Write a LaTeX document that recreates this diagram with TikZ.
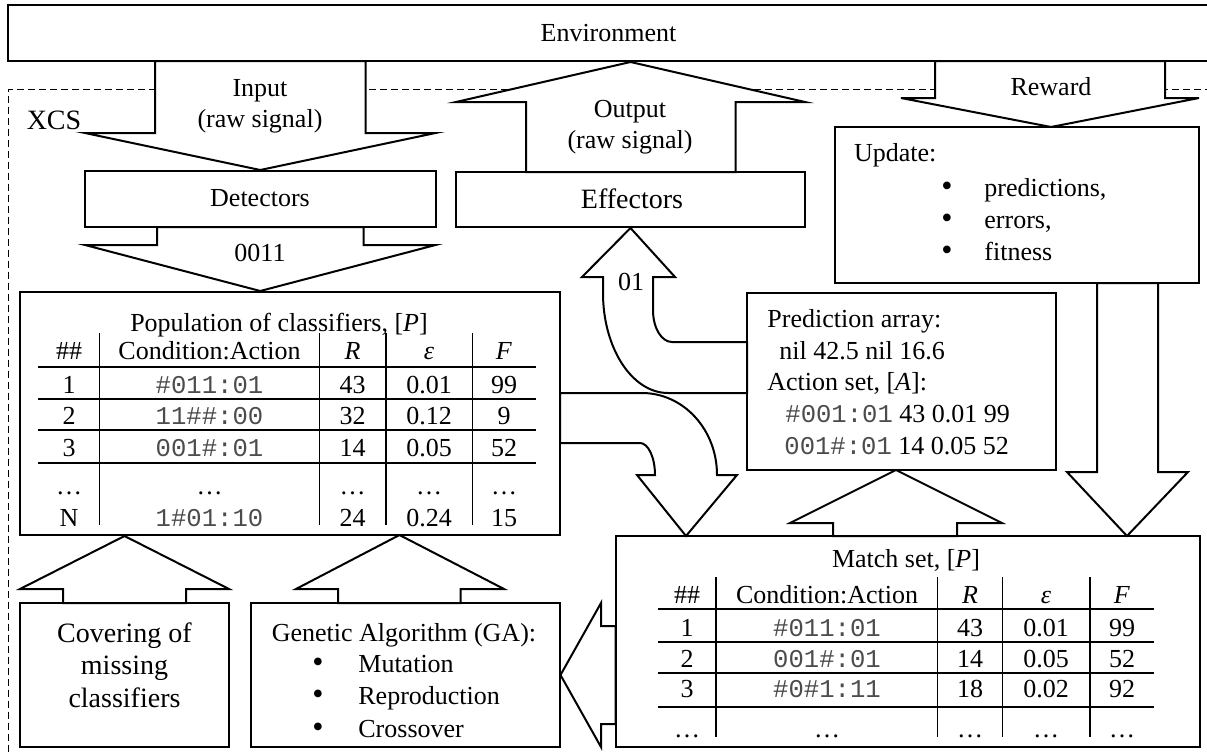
\documentclass[tikz,border=0pt]{standalone}
\usepackage{fontspec}
\setmainfont{Liberation Serif}
\setmonofont{Liberation Mono}
\usetikzlibrary{fit,calc}

\newcommand{\cond}[1]{{\fontsize{12.8}{15}\selectfont\ttfamily\color{black!70}#1}}

\begin{document}
\begin{tikzpicture}[x=0.5pt,y=-0.5pt,
    box/.style={draw,line width=1pt,inner sep=0pt},
    blockarrow/.style={draw,fill=white,line width=1pt,line join=miter},
    txt/.style={font={\rmfamily\fontsize{13}{15.5}\selectfont}},
    bigtxt/.style={font={\rmfamily\fontsize{14}{16.25}\selectfont}},
    cell/.style={txt,inner sep=0pt,text height=12pt,text depth=3pt},
    lft/.style={cell,anchor=west},
    dot/.style={cell,font={\rmfamily\fontsize{16}{16}\selectfont}},
    rule/.style={line width=0.8pt},
    xcsline/.style={line width=0.6pt,dash pattern=on 3.5pt off 2pt}]

    \useasboundingbox (0,0) rectangle (1207,755);
    \clip (0,0) rectangle (1207,755);

    % Environment and the XCS border
    \node[box,fit={(7.7,5) (1209,61)}] (env) {};
    \node[txt] (envt) at (608.5,33) {Environment};
    \draw[xcsline] (1212,89.3) -- (8.4,89.3) -- (8.4,760);
    \node[bigtxt] (xcs) at (54,120) {XCS};

    % Boxes
    \node[box,fit={(85,171) (435.5,227)}] (det) {};
    \node[txt] (dett) at (260,198) {Detectors};
    \node[box,fit={(456,172) (805,227)}] (eff) {};
    \node[bigtxt] (efft) at (632,199) {Effectors};
    \node[box,fit={(835,127) (1199,283)}] (upd) {};
    \node[box,fit={(20,292) (560,535)}] (pop) {};
    \node[box,fit={(747,293) (1056,470)}] (pred) {};
    \node[box,fit={(615.5,536) (1200,747)}] (match) {};
    \node[box,fit={(20,603) (229,747)}] (cov) {};
    \node[box,fit={(251,603) (559.5,747)}] (ga) {};

    % Block arrows
    \draw[blockarrow] (155,61) -- (155,133) -- (85,133) -- (det.north) -- (435.5,133) -- (365.5,133) -- (365.5,61) -- cycle;
    \draw[blockarrow] (157,227) -- (157,245) -- (85,245) -- (det.south |- pop.north) -- (435.5,245) -- (363.5,245) -- (363.5,227) -- cycle;
    \draw[blockarrow] (526,172) -- (526,102) -- (456,102) -- (eff.north |- env.south) -- (805,102) -- (735.5,102) -- (735.5,172) -- cycle;
    \draw[blockarrow] (935,61) -- (935,98) -- (901,98) -- (1051,127) -- (1199,98) -- (1165,98) -- (1165,61) -- cycle;
    \draw[blockarrow] (1097,283) -- (1097,472) -- (1067,472) -- (1127,536) -- (1188,472) -- (1158,472) -- (1158,283) -- cycle;
    \draw[blockarrow] (833,536) -- (833,523) -- (790,523) -- (896,470) -- (1002,523) -- (957,523) -- (957,536) -- cycle;
    \draw[blockarrow] (560,443) -- (640,443) .. controls (648,443) and (655,457) .. (655,475) -- (637,475) -- (686,536)
        -- (737,475) -- (717,475) .. controls (717,429) and (683,393) .. (642,393) -- (560,393) -- cycle;
    \draw[blockarrow] (747,393) -- (668,393) .. controls (632,393) and (603,348) .. (603,293) -- (603,277) -- (582,277)
        -- (eff.south) -- (675,277) -- (653,277) -- (653,310) .. controls (653,328) and (661.5,342) .. (672,342) -- (747,342) -- cycle;
    \draw[blockarrow] (615.5,626) -- (601,626) -- (601,603) -- (ga.east) -- (601,747) -- (601,724) -- (615.5,724) -- cycle;
    \draw[blockarrow] (63,603) -- (63,589) -- (20,589) -- (cov.north |- pop.south) -- (229,589) -- (186,589) -- (186,603) -- cycle;
    \draw[blockarrow] (338,603) -- (338,589) -- (296,589) -- (399.5,535) -- (504,589) -- (460.6,589) -- (460.6,603) -- cycle;

    % Arrow labels
    \node[txt,align=center] (inlbl) at (260,106) {Input\\(raw signal)};
    \node[txt,align=center] (outlbl) at (630,127) {Output\\(raw signal)};
    \node[txt] (rwd) at (1051,87) {Reward};
    \node[txt] (code1) at (260,253) {0011};
    \node[txt] (code2) at (631,282) {01};

    % Update
    \node[lft] (updt) at (853.6,153) {Update:};
    \foreach \yy/\w [count=\i] in {187/{predictions,},219/{errors,},251/fitness}{
        \node[dot] (ub\i) at (947,\yy) {\textbullet};
        \node[lft] (ui\i) at (984,\yy) {\w};
    }

    % Prediction array and action set
    \node[lft] (pa) at (767,318) {Prediction array:};
    \node[lft] (pv) at (779,350) {nil 42.5 nil 16.6};
    \node[lft] (as) at (767,381) {Action set, [\textit{A}]:};
    \node[lft] (as1) at (785,413) {\cond{\#001:01} 43 0.01 99};
    \node[lft] (as2) at (784,445) {\cond{001\#:01} 14 0.05 52};

    % Population table
    \node[cell] (poptitle) at (279,322) {Population of classifiers, [\textit{P}]};
    \foreach \y in {367,399,430,463} \draw[rule] (38,\y) -- (535.7,\y);
    \foreach \x in {99.5,319.5,385.7,472.6} \draw[rule] (\x,333) -- (\x,525);
    \foreach \yy/\k/\ca/\rr/\ee/\ff [count=\i] in {
        350/\#\#/Condition:Action/\textit{R}/\textit{ε}/\textit{F},
        384/1/\cond{\#011:01}/43/0.01/99,
        415/2/\cond{11\#\#:00}/32/0.12/9,
        447/3/\cond{001\#:01}/14/0.05/52,
        485/\dots/\dots/\dots/\dots/\dots,
        517/N/\cond{1\#01:10}/24/0.24/15}{
        \node[cell] (p\i-a) at (69,\yy) {\k};
        \node[cell] (p\i-b) at (209.5,\yy) {\ca};
        \node[cell] (p\i-c) at (352.6,\yy) {\rr};
        \node[cell] (p\i-d) at (429,\yy) {\ee};
        \node[cell] (p\i-e) at (504,\yy) {\ff};
    }

    % Match set table
    \node[cell] (mtitle) at (906,558) {Match set, [\textit{P}]};
    \foreach \y in {609,642,673,707} \draw[rule] (658,\y) -- (1153.6,\y);
    \foreach \x in {716,937.6,1002.6,1090} \draw[rule] (\x,577) -- (\x,737);
    \foreach \yy/\k/\ca/\rr/\ee/\ff [count=\i] in {
        594/\#\#/Condition:Action/\textit{R}/\textit{ε}/\textit{F},
        627/1/\cond{\#011:01}/43/0.01/99,
        658/2/\cond{001\#:01}/14/0.05/52,
        688/3/\cond{\#0\#1:11}/18/0.02/92,
        728/\dots/\dots/\dots/\dots/\dots}{
        \node[cell] (m\i-a) at (687,\yy) {\k};
        \node[cell] (m\i-b) at (827,\yy) {\ca};
        \node[cell] (m\i-c) at (970,\yy) {\rr};
        \node[cell] (m\i-d) at (1046,\yy) {\ee};
        \node[cell] (m\i-e) at (1122,\yy) {\ff};
    }

    % Covering and GA
    \node[bigtxt,align=center] (covt) at (124.5,665) {Covering of\\missing\\classifiers};
    \node[cell] (gat) at (404,632) {Genetic Algorithm (GA):};
    \foreach \yy/\w [count=\i] in {663/Mutation,695/Reproduction,728/Crossover}{
        \node[dot] (gb\i) at (318,\yy) {\textbullet};
        \node[lft] (gi\i) at (358,\yy) {\w};
    }
\end{tikzpicture}
\end{document}
